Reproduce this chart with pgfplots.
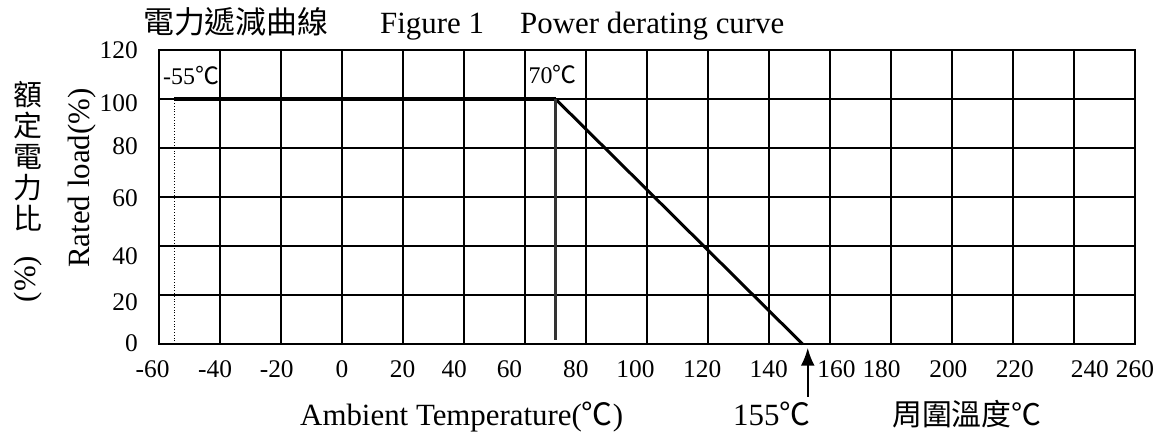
\documentclass[border=0pt]{standalone}
\usepackage{pgfplots}
\pgfplotsset{compat=1.18}
\usepackage{fontspec}
\setmainfont{Liberation Serif}
\newfontfamily\cjk{Noto Sans CJK TC}
\usetikzlibrary{arrows.meta}
\newcommand{\degC}{{\cjk ℃}}
\begin{document}
\begin{tikzpicture}[x=1bp,y=1bp]
\useasboundingbox (0,0) rectangle (1153,-432);
\begin{axis}[
 at={(159bp,-344bp)}, anchor=south west,
 scale only axis, width=976bp, height=294bp,
 xmin=-60,xmax=260,ymin=0,ymax=120,
 clip=false,
 xtick={-60,-41.6,-21.4,0,19.9,36.8,54.9,76.7,96.2,118.1,139.9,162.1,176.9,198.8,220.6,245.2,260},
 xticklabels={{\hspace*{-12.8bp}-60},-40,-20,0,20,40,60,80,100,120,140,160,180,200,220,240,260},
 ytick={0.3,17.1,35.8,59.6,80.6,98.5,120},
 yticklabels={0,20,40,60,80,100,120},
 minor xtick={-60,-40,...,260},
 minor ytick={0,20,...,120},
 xminorgrids, yminorgrids,
 xmajorgrids=false, ymajorgrids=false,
 major tick length=0pt, minor tick length=0pt,
 minor grid style={black, line width=2.4bp},
 axis line style={black, line width=2.6bp},
 ticklabel style={font=\fontsize{25.5}{30}\selectfont, inner sep=0pt},
 xticklabel style={anchor=north, yshift=-16bp},
 yticklabel style={anchor=east, xshift=-21bp},
]
\addplot[black, line width=3.6bp, line join=miter] coordinates {(-55,100) (70,100)};
\addplot[black, line width=3bp] coordinates {(70,100) (151,0)};
\addplot[black!80, line width=2.8bp] coordinates {(70,100) (70,1.5)};
\addplot[black, dotted, line width=0.8bp] coordinates {(-55,0) (-55,100)};
\node[anchor=west, inner sep=0pt, font=\fontsize{24}{28}\selectfont] at (axis cs:-58.7,109.4) {-55\degC};
\node[anchor=west, inner sep=0pt, font=\fontsize{24}{28}\selectfont] at (axis cs:61.1,110) {70\degC};
\draw[black, line width=2.5bp, -{Latex[length=18bp,width=14bp]}] (axis cs:152.7,-21.6) -- (axis cs:152.7,-1.5);
\end{axis}
\node[anchor=base west, inner sep=0pt, font=\cjk\fontsize{31}{36}\selectfont] at (143,-33) {電力遞減曲線};
\node[anchor=base west, inner sep=0pt, font=\fontsize{31}{36}\selectfont] at (380,-33) {Figure 1};
\node[anchor=base west, inner sep=0pt, font=\fontsize{31}{36}\selectfont] at (520,-33) {Power derating curve};
\node[rotate=90, inner sep=0pt, font=\fontsize{31}{36}\selectfont] at (82,-178) {Rated load(\%)};
\node[anchor=north, inner sep=0pt, align=center, font=\cjk\fontsize{29}{31}\selectfont] at (28,-81) {額\\定\\電\\力\\比};
\node[rotate=90, inner sep=0pt, font=\fontsize{31}{36}\selectfont] at (28,-279) {(\%)};
\node[anchor=base west, inner sep=0pt, font=\fontsize{31}{36}\selectfont] at (300,-425.5) {Ambient Temperature(\degC)};
\node[anchor=base west, inner sep=0pt, font=\fontsize{31}{36}\selectfont] at (733,-425.5) {155\degC};
\node[anchor=base west, inner sep=0pt, font=\cjk\fontsize{30}{36}\selectfont] at (892,-425.5) {周圍溫度℃};
\end{tikzpicture}
\end{document}
